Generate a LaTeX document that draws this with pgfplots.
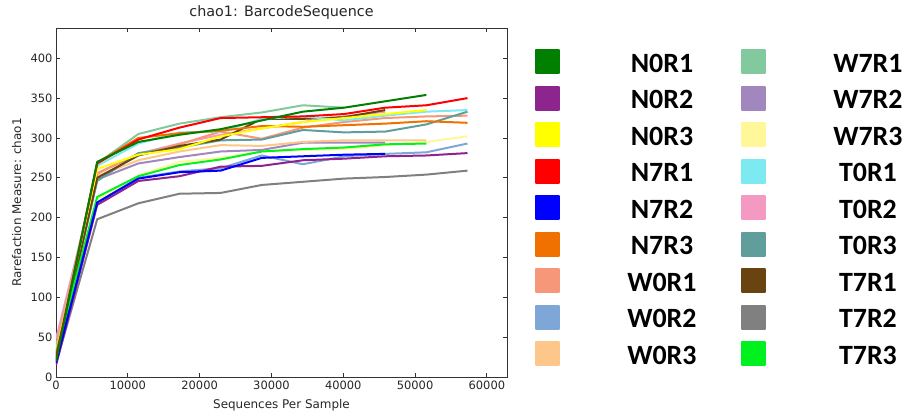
\documentclass[border=0pt]{standalone}
\usepackage{pgfplots}
\pgfplotsset{compat=1.18}
\usepackage{fontspec}
\setmainfont{DejaVu Sans}
\newfontfamily\legfont{Carlito}
\definecolor{cNORa}{HTML}{007F00}
\definecolor{cNORb}{HTML}{8E248E}
\definecolor{cNORc}{HTML}{FFFF00}
\definecolor{cNSRa}{HTML}{FF0000}
\definecolor{cNSRb}{HTML}{0000FF}
\definecolor{cNSRc}{HTML}{F07000}
\definecolor{cWORa}{HTML}{F7977A}
\definecolor{cWORb}{HTML}{7EA7D8}
\definecolor{cWORc}{HTML}{FDC68A}
\definecolor{cWSRa}{HTML}{82CA9D}
\definecolor{cWSRb}{HTML}{A187BE}
\definecolor{cWSRc}{HTML}{FFF79A}
\definecolor{cTORa}{HTML}{7DEAF2}
\definecolor{cTORb}{HTML}{F49AC2}
\definecolor{cTORc}{HTML}{5F9E9B}
\definecolor{cTSRa}{HTML}{6A4410}
\definecolor{cTSRb}{HTML}{808080}
\definecolor{cTSRc}{HTML}{00F020}
\begin{document}
\begin{tikzpicture}
\begin{axis}[
  scale only axis, width=451bp, height=349bp,
  xmin=0, xmax=62800, ymin=0, ymax=438,
  xtick={0,10000,20000,30000,40000,50000,60000},
  ytick={0,50,100,150,200,250,300,350,400},
  scaled x ticks=false,
  /pgf/number format/1000 sep={},
  /pgf/number format/assume math mode=true,
  tick align=inside, major tick length=4bp,
  axis line style={black!80, line width=0.8bp},
  tick style={black!80, line width=0.8bp},
  ticklabel style={font=\fontsize{11.5}{13}\selectfont, text=black!85},
  title={chao1: BarcodeSequence},
  title style={at={(axis description cs:0.5,1.028)}, anchor=center, font=\fontsize{14.4}{16}\selectfont, text=black!85},
  xlabel={Sequences Per Sample},
  ylabel={Rarefaction Measure: chao1},
  xlabel style={at={(axis description cs:0.5,-0.0802)}, anchor=center, font=\fontsize{12}{14}\selectfont, text=black!85},
  ylabel style={at={(axis description cs:-0.0871,0.5)}, anchor=center, font=\fontsize{12}{14}\selectfont, text=black!85},
  every axis plot/.append style={line width=2bp, line join=round},
  legend columns=2,
  legend style={at={(axis description cs:1.062,0.942)}, anchor=north west, draw=none, fill=none,
    inner sep=0pt, outer sep=0pt, row sep=8.5bp, /tikz/column sep=0bp,
    /tikz/every odd column/.append style={column sep=62bp},
    /tikz/every even column/.append style={column sep=39bp},
    nodes={inner sep=0pt, text width=80bp, align=center, text height=24bp, text depth=4bp, anchor=center,
      font=\legfont\bfseries\fontsize{28}{30}\selectfont}},
  legend image code/.code={\fill[#1] (0bp,-11bp) rectangle (23bp,12bp);},
]
\coordinate (SW) at (rel axis cs:0,0);
\coordinate (NE) at (rel axis cs:1,1);
% T7R2 gray
\addplot[color=cTSRb, forget plot] coordinates {(10,17) (5739,198) (11468,218) (17197,230) (22926,231) (28655,241) (34384,245) (40113,249) (45842,251) (51571,254) (57300,259)};
% W0R2 light blue
\addplot[color=cWORb, forget plot] coordinates {(10,28) (5739,222) (11468,250) (17197,258) (22926,262) (28655,278) (34384,267) (40113,277) (45842,280) (51571,282) (57300,293)};
% W7R3 pale yellow
\addplot[color=cWSRc, forget plot] coordinates {(10,25) (5739,222) (11468,253) (17197,270) (22926,275) (28655,283) (34384,285) (40113,286) (45842,291) (51571,295) (57300,302)};
% W7R2 lavender
\addplot[color=cWSRb, forget plot] coordinates {(10,22) (5739,248) (11468,268) (17197,276) (22926,283) (28655,285) (34384,294) (40113,294) (45842,294)};
% W0R3 light orange
\addplot[color=cWORc, forget plot] coordinates {(10,35) (5739,252) (11468,272) (17197,283) (22926,291) (28655,290) (34384,295) (40113,297) (45842,297) (51571,297)};
% T0R2 pink
\addplot[color=cTORb, forget plot] coordinates {(10,48) (5739,256) (11468,280) (17197,293) (22926,304) (28655,312) (34384,320) (40113,327) (45842,333)};
% W0R1 salmon
\addplot[color=cWORa, forget plot] coordinates {(10,40) (5739,255) (11468,280) (17197,292) (22926,308) (28655,299) (34384,313) (40113,320) (45842,325) (51571,327) (57300,328)};
% T0R3 teal
\addplot[color=cTORc, forget plot] coordinates {(10,27) (5739,246) (11468,281) (17197,288) (22926,297) (28655,298) (34384,310) (40113,307) (45842,308) (51571,317) (57300,333)};
% T7R1 brown
\addplot[color=cTSRa, forget plot] coordinates {(10,20) (5739,250) (11468,278) (17197,290) (22926,298) (28655,324) (34384,324) (40113,326) (45842,335)};
% T0R1 cyan
\addplot[color=cTORa, forget plot] coordinates {(10,32) (5739,265) (11468,293) (17197,307) (22926,308) (28655,324) (34384,327) (40113,322) (45842,328) (51571,333) (57300,335)};
% W7R1 medium green
\addplot[color=cWSRa, forget plot] coordinates {(10,30) (5739,268) (11468,305) (17197,318) (22926,326) (28655,332) (34384,341) (40113,338)};
% N7R3 orange
\addplot[color=cNSRc, forget plot] coordinates {(10,22) (5739,269) (11468,300) (17197,306) (22926,309) (28655,315) (34384,314) (40113,316) (45842,318) (51571,321) (57300,319)};
% N0R3 yellow
\addplot[color=cNORc, forget plot] coordinates {(10,30) (5739,261) (11468,279) (17197,286) (22926,302) (28655,312) (34384,320) (40113,325) (45842,330) (51571,335)};
% T7R3 bright green
\addplot[color=cTSRc, forget plot] coordinates {(10,30) (5739,226) (11468,252) (17197,266) (22926,273) (28655,283) (34384,286) (40113,288) (45842,292) (51571,293)};
% N0R2 purple
\addplot[color=cNORb, forget plot] coordinates {(10,15) (5739,216) (11468,246) (17197,252) (22926,264) (28655,265) (34384,272) (40113,274) (45842,277) (51571,278) (57300,281)};
% N7R2 blue
\addplot[color=cNSRb, forget plot] coordinates {(10,18) (5739,219) (11468,249) (17197,257) (22926,259) (28655,275) (34384,277) (40113,279) (45842,280)};
% N7R1 red
\addplot[color=cNSRa, forget plot] coordinates {(10,25) (5739,268) (11468,298) (17197,313) (22926,325) (28655,326) (34384,327) (40113,330) (45842,338) (51571,341) (57300,350)};
% N0R1 dark green
\addplot[color=cNORa, forget plot] coordinates {(10,20) (5739,270) (11468,295) (17197,304) (22926,311) (28655,322) (34384,333) (40113,338) (45842,346) (51571,354)};
% legend, filled row by row
\addlegendimage{color=cNORa}\addlegendentry{N0R1}
\addlegendimage{color=cWSRa}\addlegendentry{W7R1}
\addlegendimage{color=cNORb}\addlegendentry{N0R2}
\addlegendimage{color=cWSRb}\addlegendentry{W7R2}
\addlegendimage{color=cNORc}\addlegendentry{N0R3}
\addlegendimage{color=cWSRc}\addlegendentry{W7R3}
\addlegendimage{color=cNSRa}\addlegendentry{N7R1}
\addlegendimage{color=cTORa}\addlegendentry{T0R1}
\addlegendimage{color=cNSRb}\addlegendentry{N7R2}
\addlegendimage{color=cTORb}\addlegendentry{T0R2}
\addlegendimage{color=cNSRc}\addlegendentry{N7R3}
\addlegendimage{color=cTORc}\addlegendentry{T0R3}
\addlegendimage{color=cWORa}\addlegendentry{W0R1}
\addlegendimage{color=cTSRa}\addlegendentry{T7R1}
\addlegendimage{color=cWORb}\addlegendentry{W0R2}
\addlegendimage{color=cTSRb}\addlegendentry{T7R2}
\addlegendimage{color=cWORc}\addlegendentry{W0R3}
\addlegendimage{color=cTSRc}\addlegendentry{T7R3}
\end{axis}
\pgfresetboundingbox
\path[use as bounding box] ([xshift=-56bp,yshift=-35bp]SW) rectangle ([xshift=397bp,yshift=28bp]NE);
\end{tikzpicture}
\end{document}
